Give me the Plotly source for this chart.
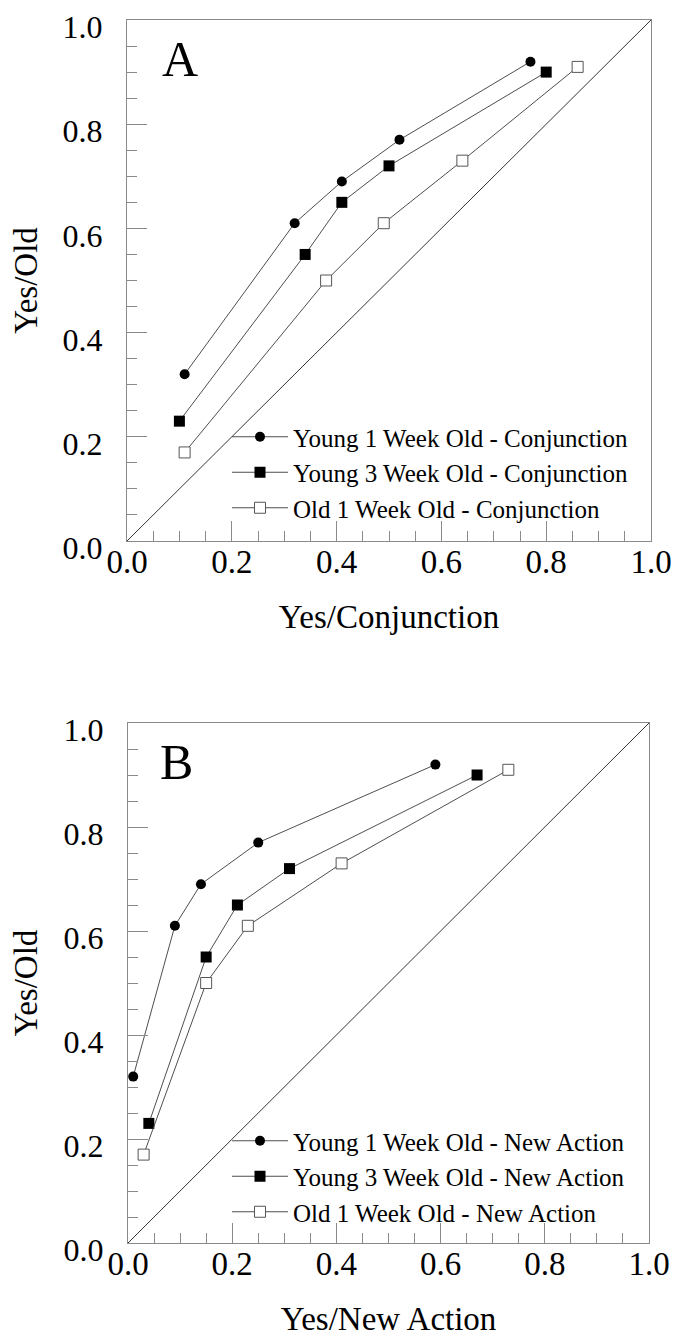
import plotly.graph_objects as go

# ---- data ----
tick_vals = [0.0, 0.2, 0.4, 0.6, 0.8, 1.0]
diag = [0.0, 1.0]

names_A = ["Young 1 Week Old - Conjunction",
           "Young 3 Week Old - Conjunction",
           "Old 1 Week Old - Conjunction"]
names_B = ["Young 1 Week Old - New Action",
           "Young 3 Week Old - New Action",
           "Old 1 Week Old - New Action"]

a_young1_x = [0.11, 0.32, 0.41, 0.52, 0.77]
a_young1_y = [0.32, 0.61, 0.69, 0.77, 0.92]
a_young3_x = [0.10, 0.34, 0.41, 0.50, 0.80]
a_young3_y = [0.23, 0.55, 0.65, 0.72, 0.90]
a_old1_x = [0.11, 0.38, 0.49, 0.64, 0.86]
a_old1_y = [0.17, 0.50, 0.61, 0.73, 0.91]

b_young1_x = [0.01, 0.09, 0.14, 0.25, 0.59]
b_young1_y = [0.32, 0.61, 0.69, 0.77, 0.92]
b_young3_x = [0.04, 0.15, 0.21, 0.31, 0.67]
b_young3_y = [0.23, 0.55, 0.65, 0.72, 0.90]
b_old1_x = [0.03, 0.15, 0.23, 0.41, 0.73]
b_old1_y = [0.17, 0.50, 0.61, 0.73, 0.91]

W, H = 681, 1343
FONT = "Liberation Serif, Times New Roman, serif"
LINE_C = "#3a3a3a"
AXIS_C = "#8a8a8a"

styles = [
    dict(symbol="circle", size=10, color="black", line=dict(width=0)),
    dict(symbol="square", size=11, color="black", line=dict(width=0)),
    dict(symbol="square", size=11, color="white", line=dict(width=1, color="#555555")),
]

fig = go.Figure()

def add_panel(xs, ys, names, xa, ya, legend):
    fig.add_trace(go.Scatter(x=diag, y=diag, mode="lines", xaxis=xa, yaxis=ya,
                             line=dict(color="black", width=0.8), showlegend=False,
                             hoverinfo="skip"))
    for x, y, n, st in zip(xs, ys, names, styles):
        fig.add_trace(go.Scatter(x=x, y=y, mode="lines+markers", name=n,
                                 xaxis=xa, yaxis=ya, legend=legend,
                                 line=dict(color=LINE_C, width=0.9),
                                 marker=st))

add_panel([a_young1_x, a_young3_x, a_old1_x], [a_young1_y, a_young3_y, a_old1_y],
          names_A, "x", "y", "legend")
add_panel([b_young1_x, b_young3_x, b_old1_x], [b_young1_y, b_young3_y, b_old1_y],
          names_B, "x2", "y2", "legend2")

def px_x(p):
    return p / W

def px_y(p):
    return 1 - p / H

def axis_common(title, standoff, fsize=33):
    return dict(
        range=[0, 1], tickvals=tick_vals, tickformat=".1f",
        showline=True, mirror=True, linecolor=AXIS_C, linewidth=1,
        ticks="inside", ticklen=20, tickwidth=1, tickcolor=AXIS_C,
        minor=dict(dtick=0.05, ticks="inside", ticklen=10, tickwidth=1, tickcolor=AXIS_C),
        showgrid=False, zeroline=False, automargin=False,
        ticklabeloverflow="allow",
        tickfont=dict(family=FONT, size=fsize, color="black"),
        title=dict(text=title, font=dict(family=FONT, size=33, color="black"), standoff=standoff),
        fixedrange=True,
    )

xA = axis_common("Yes/Conjunction", 26)
xA.update(domain=[px_x(119), px_x(643)], anchor="y", ticklabelstandoff=-9)
yA = axis_common("Yes/Old", 24, fsize=32)
yA.update(domain=[px_y(533), px_y(12)], anchor="x", ticklabelstandoff=17, ticklabelshift=7)
xB = axis_common("Yes/New Action", 26)
xB.update(domain=[px_x(120), px_x(641)], anchor="y2", ticklabelstandoff=-9)
yB = axis_common("Yes/Old", 24, fsize=32)
yB.update(domain=[px_y(1235), px_y(715)], anchor="x2", ticklabelstandoff=17, ticklabelshift=7)

leg_common = dict(font=dict(family=FONT, size=25, color="black"),
                  bgcolor="rgba(0,0,0,0)", borderwidth=0, itemwidth=56,
                  xanchor="left", yanchor="top", tracegroupgap=0)

fig.update_layout(
    template="none",
    width=W, height=H,
    margin=dict(l=0, r=0, t=0, b=0, autoexpand=False),
    paper_bgcolor="white", plot_bgcolor="white",
    xaxis=xA, yaxis=yA, xaxis2=xB, yaxis2=yB,
    legend=dict(x=px_x(219), y=px_y(406), **leg_common),
    legend2=dict(x=px_x(219), y=px_y(1110), **leg_common),
    annotations=[
        dict(text="A", x=px_x(172), y=px_y(51), xref="paper", yref="paper",
             xanchor="center", yanchor="middle",
             showarrow=False, font=dict(family=FONT, size=50, color="black")),
        dict(text="B", x=px_x(168), y=px_y(754), xref="paper", yref="paper",
             xanchor="center", yanchor="middle",
             showarrow=False, font=dict(family=FONT, size=50, color="black")),
    ],
    showlegend=True,
)

fig.write_html("out.html")
